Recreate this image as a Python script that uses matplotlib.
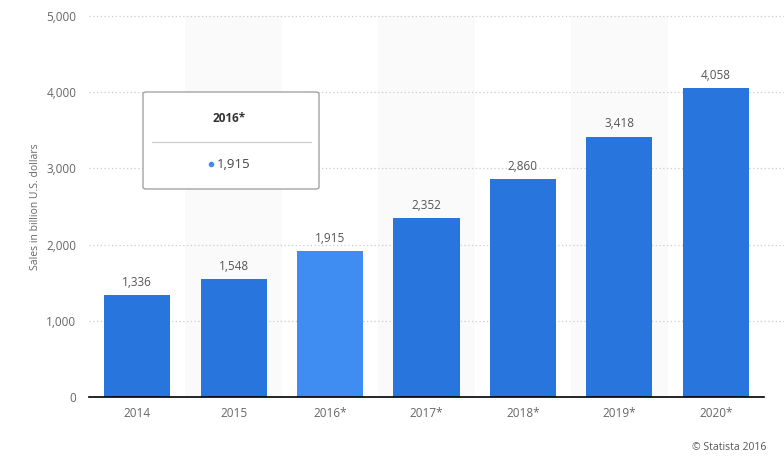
import matplotlib
matplotlib.use("Agg")
import matplotlib.pyplot as plt
from matplotlib.patches import FancyBboxPatch
from matplotlib.lines import Line2D

years = ["2014", "2015", "2016*", "2017*", "2018*", "2019*", "2020*"]
sales = [1336, 1548, 1915, 2352, 2860, 3418, 4058]
value_labels = ["1,336", "1,548", "1,915", "2,352", "2,860", "3,418", "4,058"]
yticks = [0, 1000, 2000, 3000, 4000, 5000]
ytick_labels = ["0", "1,000", "2,000", "3,000", "4,000", "5,000"]
highlight = 2

plt.rcParams['font.family'] = ['Open Sans', 'DejaVu Sans']

W, H = 784, 458
fig = plt.figure(figsize=(W / 100, H / 100), dpi=100)
ax = fig.add_axes([89 / W, (H - 397) / H, (764 - 89) / W, (397 - 16) / H])

x = list(range(len(years)))
# alternate shaded bands
for i in x:
    if i % 2 == 1:
        ax.axvspan(i - 0.5, i + 0.5, color="#fafafa", zorder=0, lw=0)

ax.set_ylim(0, 5000)
ax.set_xlim(-0.5, len(years) - 0.5)
for t in yticks[1:]:
    ax.axhline(t, color="#cccccc", lw=0.9, ls=(0, (1, 2)), zorder=1, clip_on=False,
               xmin=0, xmax=1 + 20 / 675)

colors = ["#3f8cf2" if i == highlight else "#2876dd" for i in x]
bars = ax.bar(x, sales, width=0.685, color=colors, zorder=2)
for i, (v, lab) in enumerate(zip(sales, value_labels)):
    ax.annotate(lab, (i, v), xytext=(0, 4.5), textcoords="offset points",
                ha="center", va="bottom", fontsize=8.5, color="#555555")

ax.set_xticks(x)
ax.set_xticklabels(years, fontsize=8.5, color="#666666")
ax.set_yticks(yticks)
ax.set_yticklabels(ytick_labels, fontsize=8.5, color="#666666")
ax.tick_params(axis="both", length=0, pad=7)
ax.tick_params(axis="y", pad=9)
for s in ["top", "right", "left"]:
    ax.spines[s].set_visible(False)
ax.spines["bottom"].set_color("#000000")
ax.spines["bottom"].set_linewidth(1.2)
ax.spines["bottom"].set_zorder(3)

fig.text(36 / W, 1 - 207 / H, "Sales in billion U.S. dollars", rotation=90,
         ha="center", va="center", fontsize=7.5, color="#666666")
fig.text(766 / W, 1 - 448 / H, "© Statista 2016", ha="right", va="center",
         fontsize=7.5, color="#555555")

# tooltip
bx0, by0, bx1, by1 = 143, 92, 319, 189
box = FancyBboxPatch((bx0 / W, 1 - by1 / H), (bx1 - bx0) / W, (by1 - by0) / H,
                     boxstyle="round,pad=0,rounding_size=0.004",
                     transform=fig.transFigure, facecolor="white",
                     edgecolor="#999999", lw=0.9, zorder=10)
fig.patches.append(box)
fig.text(229 / W, 1 - 119 / H, years[highlight], ha="center", va="center",
         fontsize=8.5, fontweight="bold", color="#333333", zorder=11)
fig.lines.append(Line2D([152 / W, 311 / W], [1 - 142 / H, 1 - 142 / H],
                        transform=fig.transFigure, color="#cccccc", lw=0.9, zorder=11))
fig.lines.append(Line2D([211 / W], [1 - 164 / H], transform=fig.transFigure,
                        marker="o", ms=3, color="#3f8cf2", lw=0, zorder=11))
fig.text(217 / W, 1 - 164 / H, value_labels[highlight], ha="left", va="center",
         fontsize=9.5, color="#444444", zorder=11)

fig.savefig("out.png", dpi=100)
